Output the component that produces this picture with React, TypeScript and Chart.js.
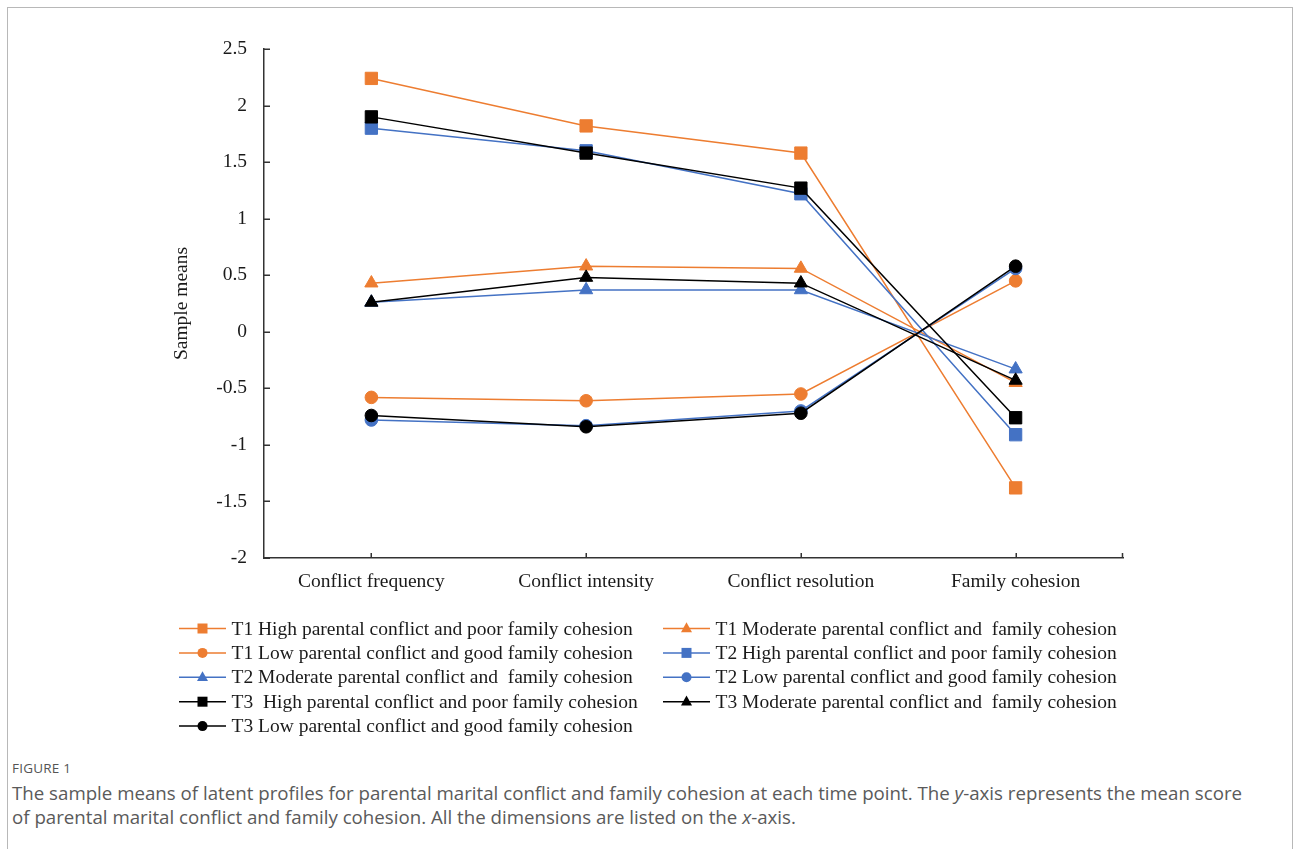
import React, { useEffect, useRef } from "react";
import { Chart, registerables } from "chart.js";

Chart.register(...registerables);

const categories = ["Conflict frequency", "Conflict intensity", "Conflict resolution", "Family cohesion"];

const t1High = [2.24, 1.82, 1.58, -1.38];
const t1Moderate = [0.43, 0.58, 0.56, -0.45];
const t1Low = [-0.58, -0.61, -0.55, 0.45];
const t2High = [1.8, 1.6, 1.22, -0.91];
const t2Moderate = [0.26, 0.37, 0.37, -0.33];
const t2Low = [-0.78, -0.83, -0.7, 0.56];
const t3High = [1.9, 1.58, 1.27, -0.76];
const t3Moderate = [0.26, 0.48, 0.43, -0.43];
const t3Low = [-0.74, -0.84, -0.72, 0.58];

const seriesLabels = [
  "T1 High parental conflict and poor family cohesion",
  "T1 Moderate parental conflict and  family cohesion",
  "T1 Low parental conflict and good family cohesion",
  "T2 High parental conflict and poor family cohesion",
  "T2 Moderate parental conflict and  family cohesion",
  "T2 Low parental conflict and good family cohesion",
  "T3  High parental conflict and poor family cohesion",
  "T3 Moderate parental conflict and  family cohesion",
  "T3 Low parental conflict and good family cohesion",
];

const seriesValues = [t1High, t1Moderate, t1Low, t2High, t2Moderate, t2Low, t3High, t3Moderate, t3Low];

const ORANGE = "#ED7D31";
const BLUE = "#4472C4";
const BLACK = "#000000";
const seriesColors = [ORANGE, ORANGE, ORANGE, BLUE, BLUE, BLUE, BLACK, BLACK, BLACK];
const seriesShapes = ["rect", "triangle", "circle", "rect", "triangle", "circle", "rect", "triangle", "circle"];
const seriesOrder = [3, 3, 3, 2, 2, 2, 1, 1, 1];

const yMin = -2;
const yMax = 2.5;
const yStep = 0.5;

const FONT_FAMILY = '"Liberation Serif", "Times New Roman", serif';
const FONT_SIZE = 19.5;

const radiusFor = (shape: string) => (shape === "rect" ? 8.7 : shape === "triangle" ? 7.6 : 6.3);

const innerTicksPlugin = {
  id: "innerTicks",
  afterDraw(chart: any) {
    const { ctx, chartArea } = chart;
    const xs = chart.scales.x;
    const ys = chart.scales.y;
    ctx.save();
    ctx.strokeStyle = "#333";
    ctx.lineWidth = 1.5;
    ctx.beginPath();
    ys.ticks.forEach((t: any) => {
      const y = Math.round(ys.getPixelForValue(t.value)) + 0.25;
      ctx.moveTo(chartArea.left, y);
      ctx.lineTo(chartArea.left + 6, y);
    });
    categories.forEach((_, i) => {
      const x = Math.round(xs.getPixelForValue(i)) + 0.25;
      ctx.moveTo(x, chartArea.bottom);
      ctx.lineTo(x, chartArea.bottom - 5);
    });
    ctx.moveTo(chartArea.right - 0.5, chartArea.bottom);
    ctx.lineTo(chartArea.right - 0.5, chartArea.bottom - 5);
    ctx.stroke();
    ctx.restore();
  },
};

function drawShape(ctx: CanvasRenderingContext2D, shape: string, x: number, y: number, s: number) {
  ctx.beginPath();
  if (shape === "rect") {
    ctx.rect(x - s / 2, y - s / 2, s, s);
  } else if (shape === "circle") {
    ctx.arc(x, y, s / 2, 0, Math.PI * 2);
  } else {
    const h = s * 0.9;
    ctx.moveTo(x, y - h * 0.62);
    ctx.lineTo(x + s / 2, y + h * 0.38);
    ctx.lineTo(x - s / 2, y + h * 0.38);
    ctx.closePath();
  }
  ctx.fill();
}

const gridLegendPlugin = {
  id: "gridLegend",
  afterDraw(chart: any) {
    const { ctx, chartArea } = chart;
    const colX = [chartArea.left - 85, chartArea.left + 399];
    const rowY0 = chartArea.bottom + 70.5;
    const rowH = 24.4;
    chart.data.datasets.forEach((ds: any, i: number) => {
      const col = i % 2;
      const row = Math.floor(i / 2);
      const x = colX[col];
      const y = rowY0 + row * rowH;
      ctx.save();
      ctx.strokeStyle = ds.borderColor;
      ctx.lineWidth = 1.5;
      ctx.beginPath();
      ctx.moveTo(x, y);
      ctx.lineTo(x + 47, y);
      ctx.stroke();
      ctx.fillStyle = ds.pointBackgroundColor;
      drawShape(ctx, seriesShapes[i], x + 23.5, y, seriesShapes[i] === "triangle" ? 11 : 10);
      ctx.fillStyle = "#1a1a1a";
      ctx.font = `${FONT_SIZE}px ${FONT_FAMILY}`;
      ctx.textBaseline = "middle";
      ctx.textAlign = "left";
      ctx.fillText(ds.label, x + 52.5, y + 1);
      ctx.restore();
    });
  },
};

export default function App() {
  const canvasRef = useRef<HTMLCanvasElement | null>(null);

  useEffect(() => {
    if (!canvasRef.current) return;
    const font = { family: FONT_FAMILY, size: FONT_SIZE };
    const chart = new Chart(canvasRef.current, {
      type: "line",
      data: {
        labels: categories,
        datasets: seriesValues.map((vals, i) => ({
          label: seriesLabels[i],
          data: vals,
          borderColor: seriesColors[i],
          backgroundColor: seriesColors[i],
          pointBackgroundColor: seriesColors[i],
          pointBorderColor: seriesColors[i],
          pointBorderWidth: 1,
          pointStyle: seriesShapes[i] as any,
          pointRadius: radiusFor(seriesShapes[i]),
          borderWidth: 1.5,
          tension: 0,
          fill: false,
          order: seriesOrder[i],
        })),
      },
      options: {
        animation: false,
        responsive: false,
        maintainAspectRatio: false,
        layout: { padding: { left: 0, right: 170, top: 49, bottom: 147 } },
        plugins: {
          legend: { display: false },
          tooltip: { enabled: false },
        },
        scales: {
          x: {
            type: "category",
            offset: true,
            grid: { display: false, drawTicks: false },
            border: { display: true, color: "#333", width: 1.5 },
            ticks: { font, color: "#1a1a1a", padding: 12, maxRotation: 0, autoSkip: false },
            afterFit: (s: any) => {
              s.height = 40;
            },
          },
          y: {
            min: yMin,
            max: yMax,
            grid: { display: false, drawTicks: false },
            border: { display: true, color: "#333", width: 1.5 },
            ticks: {
              stepSize: yStep,
              font,
              color: "#1a1a1a",
              padding: 17,
              callback: (v: any) => String(v),
            },
            title: {
              display: true,
              text: "Sample means",
              font,
              color: "#1a1a1a",
              padding: { top: 170, bottom: 0 },
            },
            afterFit: (s: any) => {
              s.width = 264;
            },
          },
        },
      },
      plugins: [innerTicksPlugin, gridLegendPlugin],
    });
    return () => chart.destroy();
  }, []);

  return (
    <div style={{ position: "absolute", left: 0, top: 0, width: 1293, height: 849, overflow: "hidden", background: "#fff" }}>
      <div
        style={{
          position: "absolute",
          left: 7,
          top: 7,
          width: 1286,
          height: 860,
          border: "1px solid #b8b8b8",
          borderBottom: "none",
          boxSizing: "border-box",
        }}
      />
      <canvas ref={canvasRef} width={1293} height={745} style={{ position: "absolute", left: 0, top: 0, width: 1293, height: 745 }} />
      <div
        style={{
          position: "absolute",
          left: 12,
          top: 759,
          fontFamily: '"Open Sans", "Noto Sans", sans-serif',
          fontSize: 13.5,
          color: "#555",
          letterSpacing: 0.2,
          lineHeight: "18px",
        }}
      >
        FIGURE 1
      </div>
      <div
        style={{
          position: "absolute",
          left: 12,
          top: 781,
          fontFamily: '"Open Sans", "Noto Sans", sans-serif',
          fontSize: 18.7,
          color: "#5a5a5a",
          lineHeight: "23.5px",
          whiteSpace: "nowrap",
        }}
      >
        The sample means of latent profiles for parental marital conflict and family cohesion at each time point. The <i>y</i>-axis represents the mean score
        <br />
        of parental marital conflict and family cohesion. All the dimensions are listed on the <i>x</i>-axis.
      </div>
    </div>
  );
}
